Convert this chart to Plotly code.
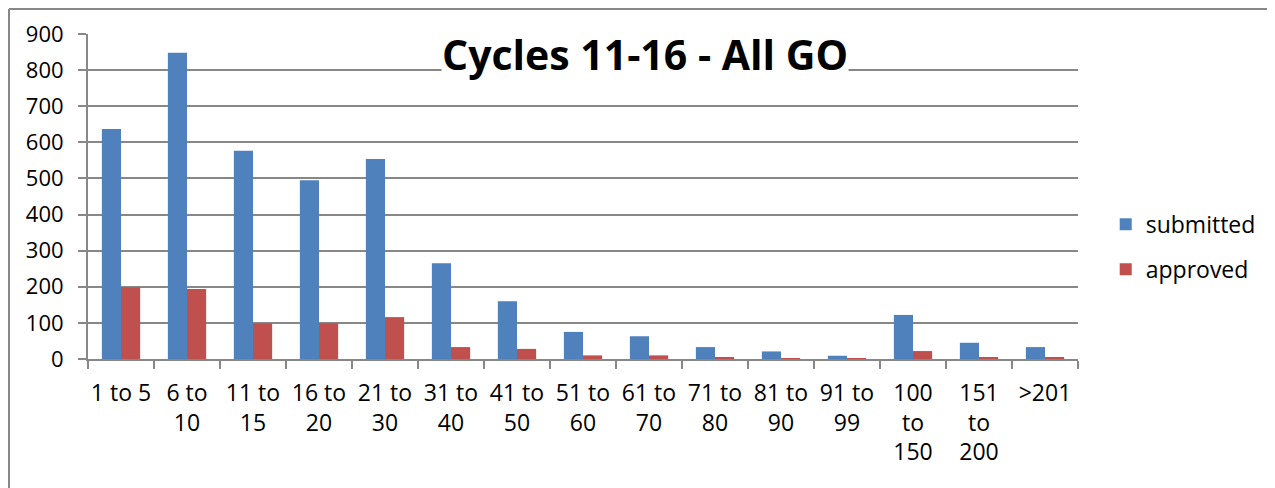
import plotly.graph_objects as go

categories = ["1 to 5", "6 to<br>10", "11 to<br>15", "16 to<br>20", "21 to<br>30", "31 to<br>40",
              "41 to<br>50", "51 to<br>60", "61 to<br>70", "71 to<br>80", "81 to<br>90", "91 to<br>99",
              "100<br>to<br>150", "151<br>to<br>200", ">201"]
submitted = [637, 848, 577, 495, 554, 265, 160, 75, 63, 33, 21, 9, 122, 45, 33]
approved = [199, 194, 99, 99, 116, 33, 28, 10, 10, 3, 2, 1, 22, 3, 3]
y_ticks = [0, 100, 200, 300, 400, 500, 600, 700, 800, 900]

FONT = "Open Sans"
GRID = "#878787"

W, H = 1267, 480
L, T, R, B = 80, 26, 197, 129
PW, PH = W - L - R, H - T - B

fig = go.Figure()
fig.add_trace(go.Bar(x=categories, y=submitted, name="submitted",
                     marker=dict(color="#4F81BD", line=dict(width=0)), legendgroup="a"))
fig.add_trace(go.Bar(x=categories, y=approved, name="approved",
                     marker=dict(color="#C0504D", line=dict(width=0)), legendgroup="b"))

fig.update_layout(
    width=W, height=H,
    margin=dict(l=L, r=R, t=T, b=B, autoexpand=False),
    paper_bgcolor="white", plot_bgcolor="white",
    bargap=0.42, bargroupgap=0,
    font=dict(family=FONT, size=22, color="black"),
    showlegend=True,
    legend=dict(x=1.028, y=0.345, yanchor="middle", xanchor="left",
                font=dict(size=23, family=FONT), tracegroupgap=12,
                itemwidth=30, bgcolor="rgba(0,0,0,0)"),
    xaxis=dict(type="category", showgrid=False, showline=True, linecolor=GRID, linewidth=2,
               ticks="outside", ticklen=8, tickcolor=GRID, tickwidth=2, tickson="boundaries",
               tickangle=0, tickfont=dict(size=23, family=FONT), ticklabelstandoff=12,
               automargin=False),
    yaxis=dict(range=[0, 900], tickvals=y_ticks, showgrid=True, gridcolor=GRID, gridwidth=2,
               showline=True, linecolor=GRID, linewidth=2, ticks="outside", ticklen=8,
               tickcolor=GRID, tickwidth=2, tickfont=dict(size=22, family=FONT),
               zeroline=False, ticklabelstandoff=10, automargin=False),
    annotations=[dict(text="<b>Cycles 11-16 - All GO</b>", xref="paper", yref="paper",
                      x=0.563, y=0.937, xanchor="center", yanchor="middle", showarrow=False,
                      font=dict(size=41, family=FONT, color="black"), bgcolor="white",
                      borderpad=0)],
    shapes=[dict(type="line", xref="paper", yref="paper", x0=-(L - 1) / PW, x1=(W - L) / PW,
                 y0=(H - 1 - B) / PH, y1=(H - 1 - B) / PH, line=dict(color=GRID, width=2)),
            dict(type="line", xref="paper", yref="paper", x0=-(L - 1) / PW, x1=-(L - 1) / PW,
                 y0=-B / PH, y1=(H - 1 - B) / PH, line=dict(color=GRID, width=2))],
)

fig.write_html("out.html")
